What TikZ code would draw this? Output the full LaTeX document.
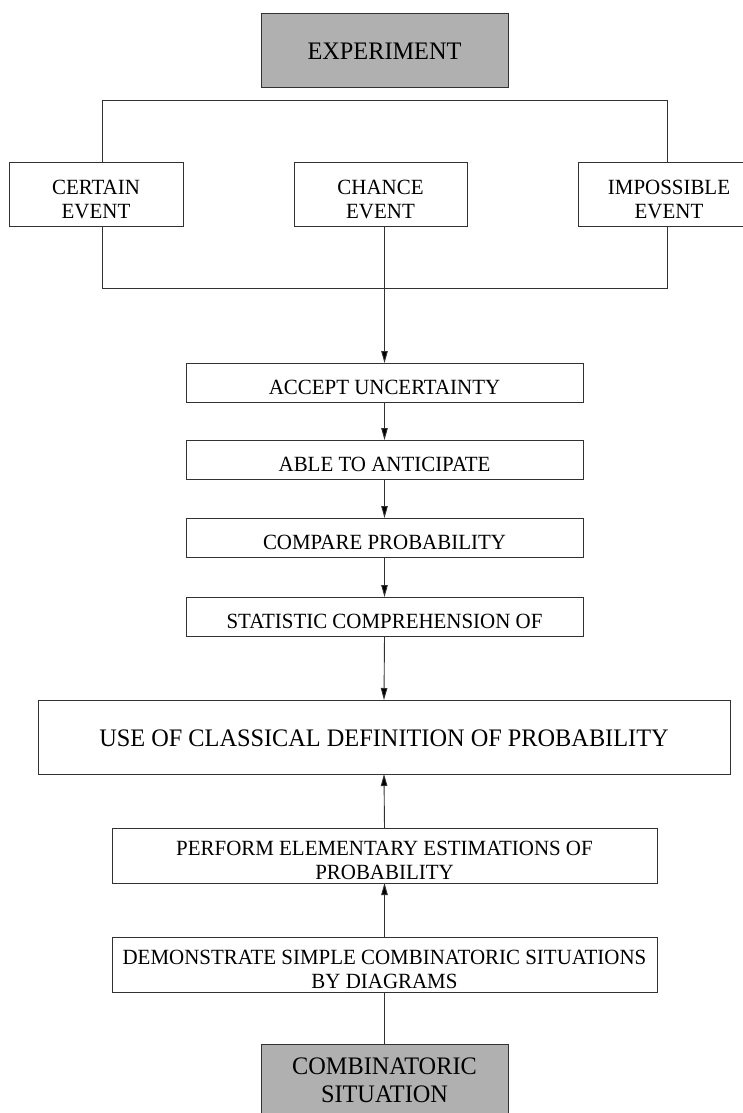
\documentclass[tikz,border=0pt]{standalone}
\usepackage{fontspec}
\setmainfont[FakeStretch=0.965]{Liberation Serif}
\usetikzlibrary{arrows.meta}
\definecolor{boxgray}{RGB}{176,176,176}
\definecolor{linec}{RGB}{50,50,50}
\newcommand\smallf{\fontsize{21.7}{24}\selectfont}
\newcommand\bigf{\fontsize{25.2}{28}\selectfont}
\newcommand\boxtxt[2][7.5pt]{\raisebox{-#1}[\height][\depth]{\begin{tabular}{@{}c@{}}#2\end{tabular}}}
\tikzset{
  conn/.style={draw=linec, line width=0.9pt},
  arr/.style={conn, -{Triangle[length=12pt,width=6.5pt,fill=black]}},
  box/.style={draw=linec, line width=0.9pt, fill=white, inner sep=0pt, outer sep=0pt,
              anchor=north west, font=\smallf, text=black},
  graybox/.style={box, fill=boxgray, font=\bigf},
  bigbox/.style={box, font=\bigf}
}
\begin{document}
\begin{tikzpicture}[x=1pt,y=-1pt]
\useasboundingbox (0,0) rectangle (743,1113);
\clip (0,0) rectangle (743,1113);
% nodes
\node[graybox, minimum width=247pt, minimum height=74pt] (exp) at (261,13) {\boxtxt[4.4pt]{EXPERIMENT}};
\node[box, minimum width=174pt, minimum height=64pt] (certain) at (9,162) {\boxtxt{CERTAIN\\EVENT}};
\node[box, minimum width=173pt, minimum height=64pt] (chance) at (294,162) {\boxtxt{CHANCE\\EVENT}};
\node[box, minimum width=182pt, minimum height=64pt] (impossible) at (578,162) {\boxtxt{IMPOSSIBLE\\EVENT}};
\node[box, minimum width=397pt, minimum height=39pt] (accept) at (186,363) {\boxtxt{ACCEPT UNCERTAINTY}};
\node[box, minimum width=397pt, minimum height=39pt] (able) at (186,440) {\boxtxt{ABLE TO ANTICIPATE}};
\node[box, minimum width=397pt, minimum height=39pt] (compare) at (186,518) {\boxtxt{COMPARE PROBABILITY}};
\node[box, minimum width=397pt, minimum height=39pt] (stat) at (186,597) {\boxtxt{STATISTIC COMPREHENSION OF}};
\node[bigbox, minimum width=692pt, minimum height=74pt] (use) at (38,700) {\boxtxt[4pt]{USE OF CLASSICAL DEFINITION OF PROBABILITY}};
\node[box, minimum width=545pt, minimum height=55pt] (perform) at (112,828) {\boxtxt[7.2pt]{PERFORM ELEMENTARY ESTIMATIONS OF\\PROBABILITY}};
\node[box, minimum width=545pt, minimum height=55pt] (demon) at (112,937) {\boxtxt[7.2pt]{DEMONSTRATE SIMPLE COMBINATORIC SITUATIONS\\BY DIAGRAMS}};
\node[graybox, minimum width=247pt, minimum height=74pt] (comb) at (261,1044) {\boxtxt[1.7pt]{COMBINATORIC\\SITUATION}};
% bus lines
\coordinate (tl) at (102,100);
\coordinate (tr) at (667,100);
\coordinate (bl) at (102,288);
\coordinate (br) at (667,288);
\draw[conn] (certain.north -| tl) -- (tl) -- (tr) -- (impossible.north -| tr);
\draw[conn] (certain.south -| bl) -- (bl) -- (br) -- (impossible.south -| br);
% arrows
\draw[arr] (chance.south -| accept.north) -- (accept.north);
\draw[arr] (accept.south) -- (able.north);
\draw[arr] (able.south) -- (compare.north);
\draw[arr] (compare.south) -- (stat.north);
\draw[arr] (stat.south) -- (use.north);
\draw[arr] (perform.north) -- (use.south);
\draw[arr] (demon.north) -- (perform.south);
\draw[conn] (comb.north) -- (demon.south);
\end{tikzpicture}
\end{document}
